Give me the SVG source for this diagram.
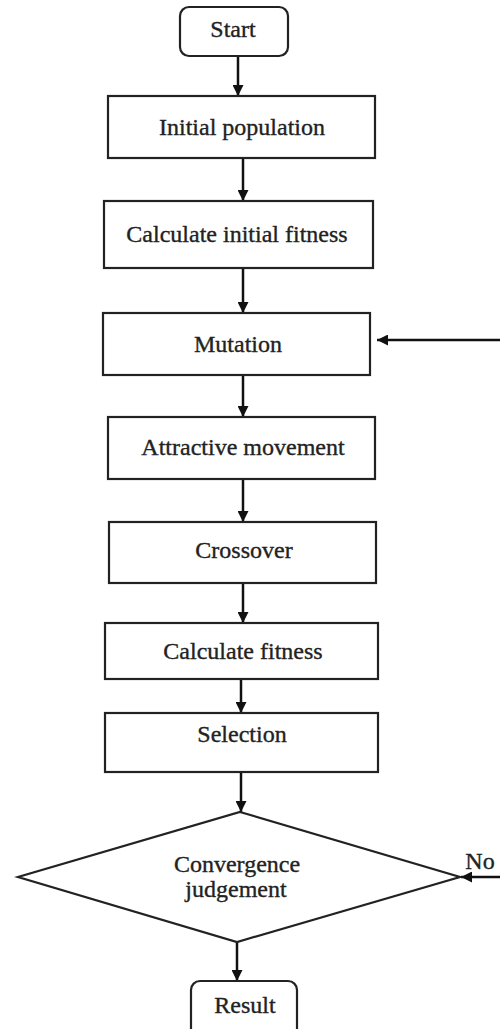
<svg xmlns="http://www.w3.org/2000/svg" width="500" height="1029" viewBox="0 0 500 1029">
  <defs>
    <marker id="arrow" viewBox="0 0 10 10" refX="10" refY="5" markerWidth="11" markerHeight="11" markerUnits="userSpaceOnUse" orient="auto">
      <path d="M0,0 L10,5 L0,10 Z" fill="#111"/>
    </marker>
    <style>
      .box { fill: #fff; stroke: #222; stroke-width: 2.2; }
      .lbl { font-family: "Liberation Serif", "Times New Roman", serif; font-size: 24px; fill: #222; stroke: #222; stroke-width: 0.35; text-anchor: middle; }
      .edge { fill: none; stroke: #111; stroke-width: 2.5; marker-end: url(#arrow); }
    </style>
  </defs>
  <rect width="500" height="1029" fill="#fff"/>

  <g id="connectors">
    <line class="edge" x1="238" y1="56" x2="238" y2="96"/>
    <line class="edge" x1="243" y1="158" x2="243" y2="201"/>
    <line class="edge" x1="243" y1="268" x2="243" y2="313"/>
    <line class="edge" x1="243" y1="375" x2="243" y2="417"/>
    <line class="edge" x1="243" y1="479" x2="243" y2="522"/>
    <line class="edge" x1="243" y1="583" x2="243" y2="623"/>
    <line class="edge" x1="241" y1="679" x2="241" y2="713"/>
    <line class="edge" x1="241" y1="772" x2="241" y2="812"/>
    <line class="edge" x1="237" y1="942" x2="237" y2="981"/>
    <line class="edge" x1="500" y1="340" x2="377" y2="340"/>
    <line class="edge" x1="500" y1="877" x2="461" y2="877"/>
  </g>

  <g id="start">
    <rect class="box" x="180" y="7" width="108" height="49" rx="9"/>
    <text class="lbl" x="233" y="37">Start</text>
  </g>
  <g id="initial-population">
    <rect class="box" x="108" y="96" width="267" height="62"/>
    <text class="lbl" x="242" y="135">Initial population</text>
  </g>
  <g id="initial-fitness">
    <rect class="box" x="104" y="201" width="269" height="67"/>
    <text class="lbl" x="237" y="242">Calculate initial fitness</text>
  </g>
  <g id="mutation">
    <rect class="box" x="103" y="313" width="267" height="62"/>
    <text class="lbl" x="238" y="352">Mutation</text>
  </g>
  <g id="attractive-movement">
    <rect class="box" x="108" y="417" width="267" height="62"/>
    <text class="lbl" x="243" y="455">Attractive movement</text>
  </g>
  <g id="crossover">
    <rect class="box" x="109" y="522" width="267" height="61"/>
    <text class="lbl" x="244" y="558">Crossover</text>
  </g>
  <g id="calculate-fitness">
    <rect class="box" x="105" y="623" width="273" height="56"/>
    <text class="lbl" x="243" y="659">Calculate fitness</text>
  </g>
  <g id="selection">
    <rect class="box" x="105" y="713" width="273" height="59"/>
    <text class="lbl" x="242" y="742">Selection</text>
  </g>
  <g id="convergence">
    <polygon class="box" points="240,812 460,877 237,942 18,877"/>
    <text class="lbl" x="237" y="872">Convergence</text>
    <text class="lbl" x="236" y="897">judgement</text>
    <text class="lbl" x="480" y="869">No</text>
  </g>
  <g id="result">
    <rect class="box" x="191" y="981" width="106" height="60" rx="9"/>
    <text class="lbl" x="245" y="1013">Result</text>
  </g>
</svg>
